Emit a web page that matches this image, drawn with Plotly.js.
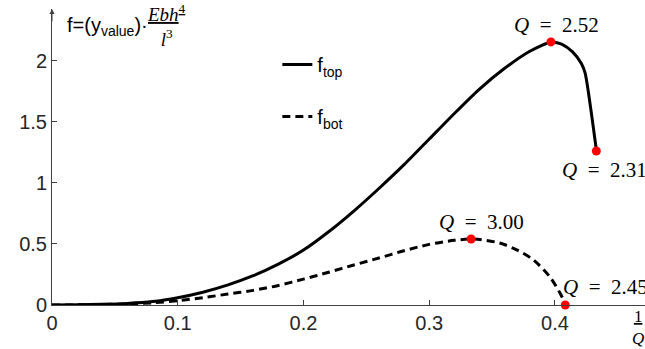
<!DOCTYPE html>
<html>
<head>
<meta charset="utf-8">
<script src="https://cdn.plot.ly/plotly-3.0.1.min.js"></script>
<style>html,body{margin:0;padding:0;background:#fff;}</style>
</head>
<body>
<div id="chart" style="width:645px;height:349px;"></div>
<script>
// 1/Q values and f values
const xTop = [0, 0.02, 0.04, 0.06, 0.08, 0.10, 0.12, 0.14, 0.16, 0.18, 0.20, 0.22, 0.24, 0.26, 0.28, 0.30, 0.32, 0.34, 0.36, 0.38, 0.397, 0.406, 0.414, 0.421, 0.424, 0.433];
const fTop = [0, 0.002, 0.006, 0.013, 0.028, 0.06, 0.105, 0.165, 0.24, 0.335, 0.45, 0.60, 0.77, 0.955, 1.15, 1.36, 1.57, 1.77, 1.94, 2.08, 2.156, 2.135, 2.075, 1.98, 1.90, 1.262];
const xBot = [0, 0.02, 0.04, 0.06, 0.08, 0.10, 0.12, 0.14, 0.16, 0.18, 0.20, 0.22, 0.24, 0.26, 0.28, 0.30, 0.32, 0.3356, 0.356, 0.37, 0.383, 0.396, 0.404, 0.4087];
const fBot = [0, 0.001, 0.004, 0.009, 0.018, 0.035, 0.06, 0.09, 0.12, 0.16, 0.212, 0.268, 0.328, 0.385, 0.445, 0.497, 0.530, 0.541, 0.508, 0.45, 0.369, 0.23, 0.098, 0.0];
// highlighted points and their Q labels
const markX = [0.3968, 0.4329, 0.3333, 0.4082];
const markY = [2.156, 1.262, 0.541, 0.0];
const markQ = ["2.52", "2.31", "3.00", "2.45"];
const xTicks = [0, 0.1, 0.2, 0.3, 0.4];
const yTicks = [0, 0.5, 1, 1.5, 2];

const xMax = 0.4716, yMax = 2.426;

const traces = [
  {x: xTop, y: fTop, mode: 'lines', name: 'f<sub>top</sub>', legendgroup: 'a',
   line: {color: '#000', width: 3, shape: 'spline', smoothing: 0.6}},
  {x: xBot, y: fBot, mode: 'lines', name: 'f<sub>bot</sub>', legendgroup: 'b',
   line: {color: '#000', width: 3, dash: '8px,5px', shape: 'spline', smoothing: 0.8}},
  {x: markX, y: markY, mode: 'markers', showlegend: false, cliponaxis: false,
   marker: {color: '#ff0000', size: 9}}
];

const serif = 'Liberation Serif, DejaVu Serif, serif';
const sans = 'Liberation Sans, Arial, sans-serif';
const qPos = [
  {xanchor: 'center', yanchor: 'bottom', xshift: 6, yshift: 3},
  {xanchor: 'left', yanchor: 'top', xshift: -36, yshift: -5},
  {xanchor: 'center', yanchor: 'bottom', xshift: 10, yshift: 3},
  {xanchor: 'left', yanchor: 'bottom', xshift: -4, yshift: 4}
];
const annotations = markQ.map((q, i) => Object.assign({
  x: markX[i], y: markY[i], xref: 'x', yref: 'y', showarrow: false,
  text: '<i>Q</i>&nbsp;&nbsp;=&nbsp;&nbsp;' + q, font: {family: serif, size: 21, color: '#000'}
}, qPos[i]));

annotations.push(
  {xref: 'paper', yref: 'paper', x: 0, y: 1, ax: 0, ay: 14, axref: 'pixel', ayref: 'pixel',
   showarrow: true, arrowhead: 2, arrowsize: 1, arrowwidth: 1, arrowcolor: '#404040', text: ''},
  {xref: 'paper', yref: 'paper', x: 0.022, y: 0.99, xanchor: 'left', yanchor: 'top', showarrow: false,
   text: 'f=(y<sub>value</sub>)·', font: {family: sans, size: 20, color: '#000'}},
  {xref: 'paper', yref: 'paper', x: 0.157, y: 1.034, xanchor: 'left', yanchor: 'top', showarrow: false,
   text: '<u><i>Ebh</i><sup>4</sup></u><br><i>l</i><sup>3</sup>',
   font: {family: serif, size: 19, color: '#000'}},
  {xref: 'paper', yref: 'paper', x: 0.988, y: -22 / 296, xanchor: 'center', yanchor: 'middle', showarrow: false,
   text: '<u>1</u><br><i>Q</i>', font: {family: serif, size: 17, color: '#000'}}
);

const axisCommon = {
  showgrid: false, zeroline: false, showline: true, linecolor: '#404040', linewidth: 1,
  ticks: 'inside', ticklen: 5, tickcolor: '#404040', tickwidth: 1,
  tickfont: {family: sans, size: 20, color: '#262626'}
};

const layout = {
  width: 645, height: 349,
  margin: {l: 52, r: 0, t: 9, b: 44, pad: 0},
  paper_bgcolor: '#fff', plot_bgcolor: '#fff',
  showlegend: true,
  legend: {x: 0.38, y: 0.878, xanchor: 'left', yanchor: 'top', bgcolor: 'rgba(0,0,0,0)',
           font: {family: sans, size: 20, color: '#000'}, tracegroupgap: 23, traceorder: 'grouped'},
  xaxis: Object.assign({}, axisCommon, {range: [0, xMax], tickvals: xTicks, ticktext: xTicks.map(String)}),
  yaxis: Object.assign({}, axisCommon, {range: [0, yMax], tickvals: yTicks, ticktext: yTicks.map(String)}),
  annotations: annotations
};

Plotly.newPlot('chart', traces, layout, {staticPlot: true, displayModeBar: false});
</script>
</body>
</html>
